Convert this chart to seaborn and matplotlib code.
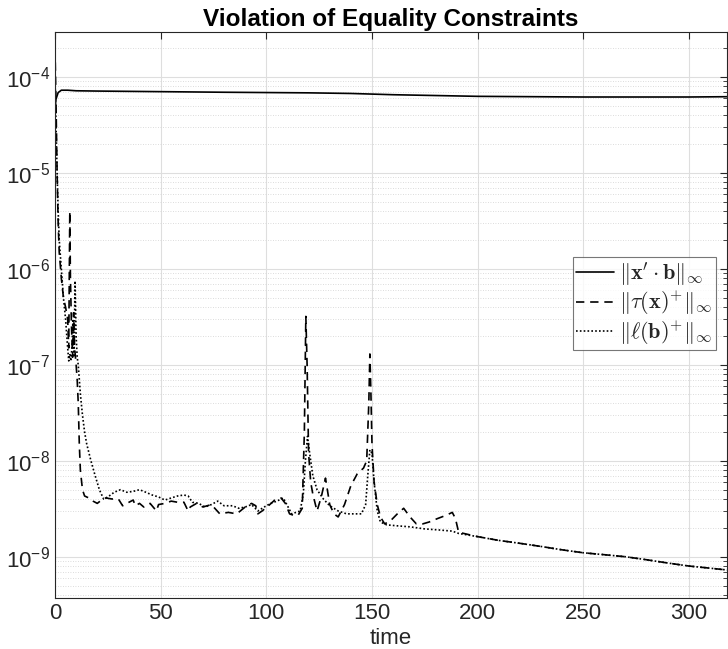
import matplotlib
matplotlib.use("Agg")
import matplotlib.pyplot as plt
import seaborn as sns
import pandas as pd
import numpy as np
from matplotlib.ticker import LogLocator, NullFormatter, FixedLocator

# ---- data ----
t_solid = [0, 0.4, 0.8, 1.5, 3, 6, 10, 20, 50, 80, 100, 120, 140, 160, 200, 250, 300, 320]
v_solid = [4.5e-5, 5.8e-5, 6.2e-5, 6.9e-5, 7.3e-5, 7.3e-5, 7.2e-5, 7.15e-5, 7.05e-5, 6.95e-5,
           6.9e-5, 6.85e-5, 6.75e-5, 6.55e-5, 6.3e-5, 6.2e-5, 6.2e-5, 6.25e-5]

t_tail = [200, 210, 220, 230, 240, 250, 260, 270, 280, 290, 300, 310, 320]
v_tail = [1.62e-9, 1.48e-9, 1.38e-9, 1.28e-9, 1.18e-9, 1.1e-9, 1.05e-9, 1.0e-9, 0.93e-9,
          0.86e-9, 0.8e-9, 0.76e-9, 0.72e-9]

t_dash = [0, 0.5, 1, 1.5, 2, 3, 4, 5, 6, 6.5, 7, 7.3, 7.8, 8.3, 8.8, 9.3, 10, 10.5, 11, 11.5,
          12, 13, 14, 16, 18, 20, 22, 24, 27, 30, 32, 34, 37, 38, 40, 42, 45, 48, 49, 52,
          55, 58, 61, 63, 64, 67, 70, 74, 78, 82, 86, 90, 93, 95, 96, 98, 101, 104, 107, 109,
          111, 113, 115, 117, 118, 118.7, 119.3, 120, 121, 122, 124, 126, 128, 130, 132, 134, 137, 140, 143, 146,
          147.5, 148.5, 149, 149.5, 150, 151, 152.5, 154, 156, 159, 162, 165, 168, 171, 174, 177,
          181, 185, 188, 189.5, 191] + t_tail
v_dash = [2.0e-4, 5e-5, 1e-5, 3e-6, 1.5e-6, 8e-7, 5e-7, 4e-7, 3e-7, 1.5e-7, 4e-6, 8e-7, 2.5e-7, 1.2e-7, 3.5e-7, 1.5e-7, 1.0e-7, 7e-8, 4e-8, 1.5e-8,
          8e-9, 5e-9, 4.3e-9, 4.1e-9, 3.8e-9, 3.6e-9, 3.9e-9, 4.1e-9, 4.0e-9, 4.0e-9, 3.4e-9, 3.6e-9, 3.9e-9, 3.4e-9, 3.6e-9, 3.3e-9, 3.6e-9, 3.0e-9, 3.5e-9, 3.6e-9,
          3.8e-9, 3.7e-9, 3.7e-9, 3.0e-9, 3.3e-9, 3.6e-9, 3.3e-9, 3.5e-9, 2.8e-9, 2.9e-9, 2.8e-9, 3.3e-9, 3.6e-9, 3.4e-9, 2.8e-9, 3.0e-9, 3.4e-9, 3.9e-9, 4.1e-9, 3.6e-9,
          2.8e-9, 2.7e-9, 2.7e-9, 3.2e-9, 2e-8, 3.2e-7, 1e-7, 1.2e-8, 6e-9, 4.5e-9, 3.0e-9, 4.2e-9, 6.6e-9, 3.5e-9, 2.8e-9, 2.6e-9, 3.5e-9, 5.5e-9, 7.3e-9, 8.4e-9,
          1e-8, 4e-8, 1.3e-7, 5e-8, 1.5e-8, 6e-9, 3.5e-9, 2.6e-9, 2.2e-9, 2.4e-9, 2.8e-9, 3.2e-9, 2.6e-9, 2.2e-9, 2.2e-9, 2.3e-9,
          2.5e-9, 2.7e-9, 2.9e-9, 2.5e-9, 1.8e-9] + v_tail

t_dot = [0, 0.5, 1, 1.5, 2, 3, 4, 5, 6, 6.5, 7, 7.5, 8, 8.5, 9, 9.5, 10, 10.5, 11, 12,
         13, 14, 15, 17, 19, 21, 23, 25, 28, 31, 34, 37, 40, 43, 46, 49, 52, 55, 58, 61,
         63, 65, 68, 71, 74, 77, 80, 84, 87, 90, 93, 96, 99, 102, 105, 108, 110, 112, 114, 116,
         117.5, 118.5, 119.5, 120.5, 122, 124, 127, 130, 134, 138, 142, 145, 147, 148, 149, 150, 151, 152.5, 154, 157,
         162, 168, 175, 182, 188, 191] + t_tail
v_dot = [1e-4, 3e-5, 1e-5, 4e-6, 2e-6, 1e-6, 5e-7, 3e-7, 1.5e-7, 1.1e-7, 1.3e-7, 1.1e-7, 1.5e-7, 3e-7, 1.2e-7, 7.5e-7, 2e-7, 1.2e-7, 1e-7, 5e-8,
         3e-8, 2e-8, 1.5e-8, 1e-8, 7e-9, 5e-9, 4e-9, 4.2e-9, 4.7e-9, 5.0e-9, 4.7e-9, 4.8e-9, 5.0e-9, 4.7e-9, 4.4e-9, 4.2e-9, 3.9e-9, 4.1e-9, 4.3e-9, 4.4e-9,
         4.3e-9, 3.7e-9, 3.6e-9, 3.3e-9, 3.5e-9, 3.8e-9, 3.4e-9, 3.4e-9, 3.2e-9, 3.3e-9, 3.5e-9, 3.0e-9, 3.3e-9, 3.6e-9, 3.8e-9, 4.1e-9, 3.4e-9, 2.8e-9, 2.9e-9, 3.0e-9,
         4.5e-9, 1e-8, 1.8e-8, 1.2e-8, 7e-9, 5e-9, 4e-9, 3.4e-9, 3.0e-9, 2.8e-9, 2.8e-9, 2.8e-9, 3.5e-9, 7e-9, 1.3e-8, 1.2e-8, 6e-9, 3e-9, 2.3e-9, 2.15e-9,
         2.1e-9, 2.05e-9, 1.95e-9, 1.9e-9, 1.85e-9, 1.75e-9] + v_tail

labels = [r"$\|\mathbf{x}'\cdot\mathbf{b}\|_\infty$",
          r"$\|\tau(\mathbf{x})^{+}\|_\infty$",
          r"$\|\ell(\mathbf{b})^{+}\|_\infty$"]
x_ticks = [0, 50, 100, 150, 200, 250, 300]
y_ticks = [1e-9, 1e-8, 1e-7, 1e-6, 1e-5, 1e-4]

sns.set_style("white")
plt.rcParams['font.family'] = ['Liberation Sans', 'DejaVu Sans']
plt.rcParams['mathtext.fontset'] = 'cm'

fig = plt.figure(figsize=(7.28, 6.49), dpi=100)
ax = fig.add_axes([55/728, 1 - 598/649, (727 - 55)/728, (598 - 32)/649])

df_s = pd.DataFrame({"t": t_solid, "v": v_solid})
df_d = pd.DataFrame({"t": t_dash, "v": v_dash})
df_o = pd.DataFrame({"t": t_dot, "v": v_dot})

sns.lineplot(data=df_s, x="t", y="v", ax=ax, color="black", lw=1.2, label=labels[0])
sns.lineplot(data=df_d, x="t", y="v", ax=ax, color="black", lw=1.2, label=labels[1])
sns.lineplot(data=df_o, x="t", y="v", ax=ax, color="black", lw=1.2, label=labels[2])
lines = ax.get_lines()
lines[1].set_dashes((5, 3.5))
lines[2].set_dashes((1, 1.3))

ax.set_yscale("log")
ax.set_xlim(0, 318)
ax.set_ylim(10**-9.43, 10**-3.53)
ax.set_xticks(x_ticks)
ax.yaxis.set_major_locator(FixedLocator(y_ticks))
ax.yaxis.set_minor_locator(LogLocator(base=10, subs=np.arange(2, 10), numticks=100))
ax.yaxis.set_minor_formatter(NullFormatter())

ax.grid(True, which="major", color="#dedede", lw=0.8)
ax.grid(True, which="minor", axis="y", color="#d0d0d0", lw=0.6, ls=(0, (1, 2)))
ax.set_axisbelow(True)

for s in ax.spines.values():
    s.set_color("#262626")
    s.set_linewidth(0.8)
ax.tick_params(which="both", direction="in", top=True, right=True, colors="#262626",
               labelsize=16, labelcolor="#262626")
ax.tick_params(which="major", length=5)
ax.tick_params(which="minor", length=3)

ax.set_xlabel("time", fontsize=16, color="#262626", labelpad=3)
ax.set_ylabel("")
ax.set_title("Violation of Equality Constraints", fontsize=17.5, fontweight="bold",
             pad=4, color="black")

leg = ax.legend(loc="center right", fontsize=16, frameon=True, fancybox=False,
                edgecolor="#555555", handlelength=1.7, handletextpad=0.25,
                borderpad=0.15, labelspacing=0.05, borderaxespad=0.5,
                bbox_to_anchor=(1.0, 0.52))
leg.get_frame().set_linewidth(0.8)

fig.savefig("out.png", dpi=100)
